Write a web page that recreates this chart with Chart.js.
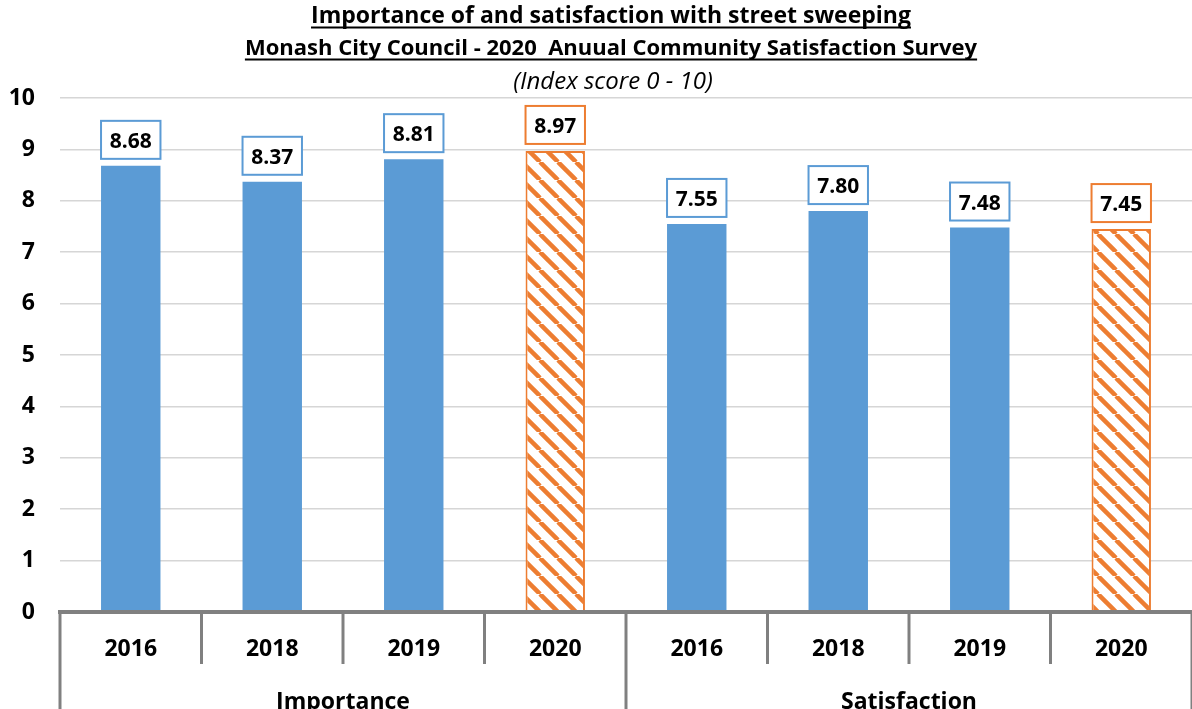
<!DOCTYPE html>
<html>
<head>
<meta charset="utf-8">
<script src="https://cdn.jsdelivr.net/npm/chart.js@4/dist/chart.umd.min.js"></script>
<style>
  html, body { margin: 0; padding: 0; background: #fff; }
  #wrap { width: 1192px; height: 709px; }
</style>
</head>
<body>
<div id="wrap"><canvas id="chart"></canvas></div>
<script>
// survey data
const years = ["2016", "2018", "2019", "2020"];
const groups = ["Importance", "Satisfaction"];
const importance = [8.68, 8.37, 8.81, 8.97];
const satisfaction = [7.55, 7.80, 7.48, 7.45];
const yTicks = [0, 1, 2, 3, 4, 5, 6, 7, 8, 9, 10];

const titleLines = [
  "Importance of and satisfaction with street sweeping",
  "Monash City Council - 2020  Anuual Community Satisfaction Survey"
];
const subTitle = "(Index score 0 - 10)";

const BLUE = "#5b9bd5";
const ORANGE = "#ed7d31";
const FONT = "'Open Sans', Lato, sans-serif";

// diagonal hatch for the current year
function makeHatch() {
  const s = 18;
  const c = document.createElement("canvas");
  c.width = s; c.height = s;
  const g = c.getContext("2d");
  g.fillStyle = "#fff";
  g.fillRect(0, 0, s, s);
  g.strokeStyle = ORANGE;
  g.lineWidth = 4.5;
  for (const k of [-s, 0, s]) {
    g.beginPath();
    g.moveTo(k, 0);
    g.lineTo(k + s, s);
    g.stroke();
  }
  return g.createPattern(c, "repeat");
}
const hatch = makeHatch();

const labels = [];
groups.forEach(gr => years.forEach(y => labels.push(gr + " " + y)));
const values = importance.concat(satisfaction);
const isCurrent = labels.map(l => l.endsWith("2020"));

const titlePlugin = {
  id: "titles",
  afterDraw(chart) {
    const ctx = chart.ctx;
    const cx = 611;
    ctx.save();
    ctx.fillStyle = "#000";
    ctx.strokeStyle = "#000";
    ctx.textAlign = "center";
    ctx.textBaseline = "alphabetic";
    const bases = [23, 55];
    const sizes = [23, 22];
    titleLines.forEach((t, i) => {
      ctx.font = "bold " + sizes[i] + "px " + FONT;
      ctx.fillText(t, cx, bases[i]);
      const w = ctx.measureText(t).width;
      ctx.lineWidth = 2;
      ctx.beginPath();
      ctx.moveTo(cx - w / 2, bases[i] + 4.5);
      ctx.lineTo(cx + w / 2, bases[i] + 4.5);
      ctx.stroke();
    });
    ctx.font = "italic 24px " + FONT;
    ctx.fillText(subTitle, cx + 2, 89);
    ctx.restore();
  }
};

const axisPlugin = {
  id: "groupAxis",
  afterDatasetsDraw(chart) {
    const ctx = chart.ctx;
    const x = chart.scales.x;
    const area = chart.chartArea;
    const n = labels.length;
    const step = x.getPixelForValue(1) - x.getPixelForValue(0);
    const edge = i => x.getPixelForValue(i) - step / 2;
    ctx.save();

    // value boxes above bars
    const meta = chart.getDatasetMeta(0);
    ctx.textAlign = "center";
    ctx.textBaseline = "alphabetic";
    meta.data.forEach((bar, i) => {
      const w = bar.width;
      const h = 38;
      const bx = bar.x - w / 2;
      const by = bar.y - 7 - h;
      ctx.fillStyle = "#fff";
      ctx.fillRect(bx, by, w, h);
      ctx.strokeStyle = isCurrent[i] ? ORANGE : BLUE;
      ctx.lineWidth = 2;
      ctx.strokeRect(bx, by, w, h);
      ctx.fillStyle = "#000";
      ctx.font = "bold 21px " + FONT;
      ctx.fillText(values[i].toFixed(2), bar.x, by + 27);
    });

    // baseline and category dividers
    ctx.strokeStyle = "#808080";
    ctx.lineWidth = 4;
    ctx.beginPath();
    ctx.moveTo(area.left - 2, area.bottom);
    ctx.lineTo(chart.width, area.bottom);
    ctx.stroke();
    ctx.lineWidth = 3;
    for (let i = 0; i <= n; i++) {
      const px = edge(i);
      const major = i % years.length === 0;
      ctx.beginPath();
      ctx.moveTo(px, area.bottom);
      ctx.lineTo(px, major ? chart.height : area.bottom + 52);
      ctx.stroke();
    }

    // year and group labels
    ctx.fillStyle = "#000";
    ctx.font = "bold 23px " + FONT;
    labels.forEach((l, i) => {
      ctx.fillText(years[i % years.length], x.getPixelForValue(i), area.bottom + 44);
    });
    groups.forEach((g, gi) => {
      const mid = (edge(gi * years.length) + edge((gi + 1) * years.length)) / 2;
      ctx.fillText(g, mid, area.bottom + 97);
    });
    ctx.restore();
  }
};

new Chart(document.getElementById("chart"), {
  type: "bar",
  data: {
    labels: labels,
    datasets: [{
      data: values,
      backgroundColor: isCurrent.map(c => c ? hatch : BLUE),
      borderColor: isCurrent.map(c => c ? ORANGE : BLUE),
      borderWidth: isCurrent.map(c => c ? 2 : 0),
      barPercentage: 0.42,
      categoryPercentage: 1
    }]
  },
  options: {
    responsive: true,
    maintainAspectRatio: false,
    animation: false,
    layout: { padding: { top: 98, bottom: 97, left: 0, right: -4 } },
    plugins: {
      legend: { display: false },
      tooltip: { enabled: false }
    },
    scales: {
      x: { display: false },
      y: {
        min: 0,
        max: 10,
        afterFit: s => { s.width = 60; },
        afterBuildTicks: s => { s.ticks = yTicks.map(v => ({ value: v })); },
        border: { display: false },
        grid: {
          drawTicks: false,
          color: c => c.tick && c.tick.value === 0 ? "rgba(0,0,0,0)" : "#d6d6d6",
          lineWidth: 1.5
        },
        ticks: {
          padding: 25,
          color: "#000",
          font: { family: FONT, size: 23, weight: "bold" }
        }
      }
    }
  },
  plugins: [titlePlugin, axisPlugin]
});
</script>
</body>
</html>
